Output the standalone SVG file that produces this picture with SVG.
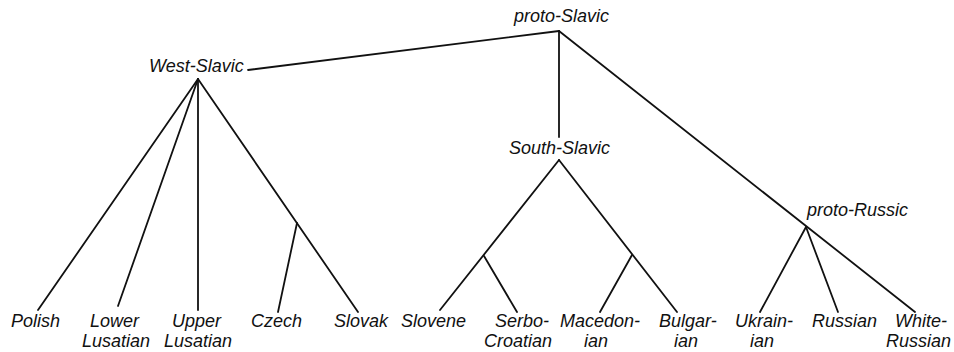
<svg xmlns="http://www.w3.org/2000/svg" width="954" height="352" viewBox="0 0 954 352">
  <style>
    text { font-family: "Liberation Sans", Arial, sans-serif; font-style: italic; font-size: 18px; fill: #111; }
    .edge { stroke: #111; stroke-width: 1.8; fill: none; stroke-linecap: round; }
  </style>
  <rect width="954" height="352" fill="#fff"/>

  <g id="connectors">
    <!-- proto-Slavic -->
    <line class="edge" x1="248" y1="70" x2="559" y2="31"/>
    <line class="edge" x1="559" y1="31" x2="559" y2="137"/>
    <line class="edge" x1="559" y1="31" x2="915" y2="312"/>
    <!-- West-Slavic -->
    <line class="edge" x1="198" y1="79" x2="38" y2="310"/>
    <line class="edge" x1="198" y1="79" x2="118" y2="306"/>
    <line class="edge" x1="198" y1="79" x2="198" y2="310"/>
    <line class="edge" x1="198" y1="79" x2="358" y2="312"/>
    <line class="edge" x1="297" y1="223" x2="278" y2="312"/>
    <!-- South-Slavic -->
    <line class="edge" x1="559" y1="160" x2="440" y2="310"/>
    <line class="edge" x1="559" y1="160" x2="677" y2="312"/>
    <line class="edge" x1="484" y1="256" x2="517" y2="312"/>
    <line class="edge" x1="632" y1="255" x2="600" y2="312"/>
    <!-- proto-Russic -->
    <line class="edge" x1="806" y1="227" x2="760" y2="312"/>
    <line class="edge" x1="806" y1="227" x2="838" y2="312"/>
  </g>

  <g id="proto-slavic"><text x="514" y="22">proto-Slavic</text></g>
  <g id="west-slavic"><text x="149" y="72">West-Slavic</text></g>
  <g id="south-slavic"><text x="509" y="154">South-Slavic</text></g>
  <g id="proto-russic"><text x="807" y="216">proto-Russic</text></g>

  <g id="polish"><text x="11" y="327">Polish</text></g>
  <g id="lower-lusatian"><text x="90" y="327">Lower</text><text x="82" y="347">Lusatian</text></g>
  <g id="upper-lusatian"><text x="172" y="327">Upper</text><text x="164" y="347">Lusatian</text></g>
  <g id="czech"><text x="251" y="327">Czech</text></g>
  <g id="slovak"><text x="334" y="327">Slovak</text></g>
  <g id="slovene"><text x="401" y="327">Slovene</text></g>
  <g id="serbo-croatian"><text x="495" y="327">Serbo-</text><text x="484" y="347">Croatian</text></g>
  <g id="macedonian"><text x="560" y="327">Macedon-</text><text x="584" y="347">ian</text></g>
  <g id="bulgarian"><text x="659" y="327">Bulgar-</text><text x="674" y="347">ian</text></g>
  <g id="ukrainian"><text x="735" y="327">Ukrain-</text><text x="750" y="347">ian</text></g>
  <g id="russian"><text x="812" y="327">Russian</text></g>
  <g id="white-russian"><text x="895" y="327">White-</text><text x="886" y="347">Russian</text></g>
</svg>
